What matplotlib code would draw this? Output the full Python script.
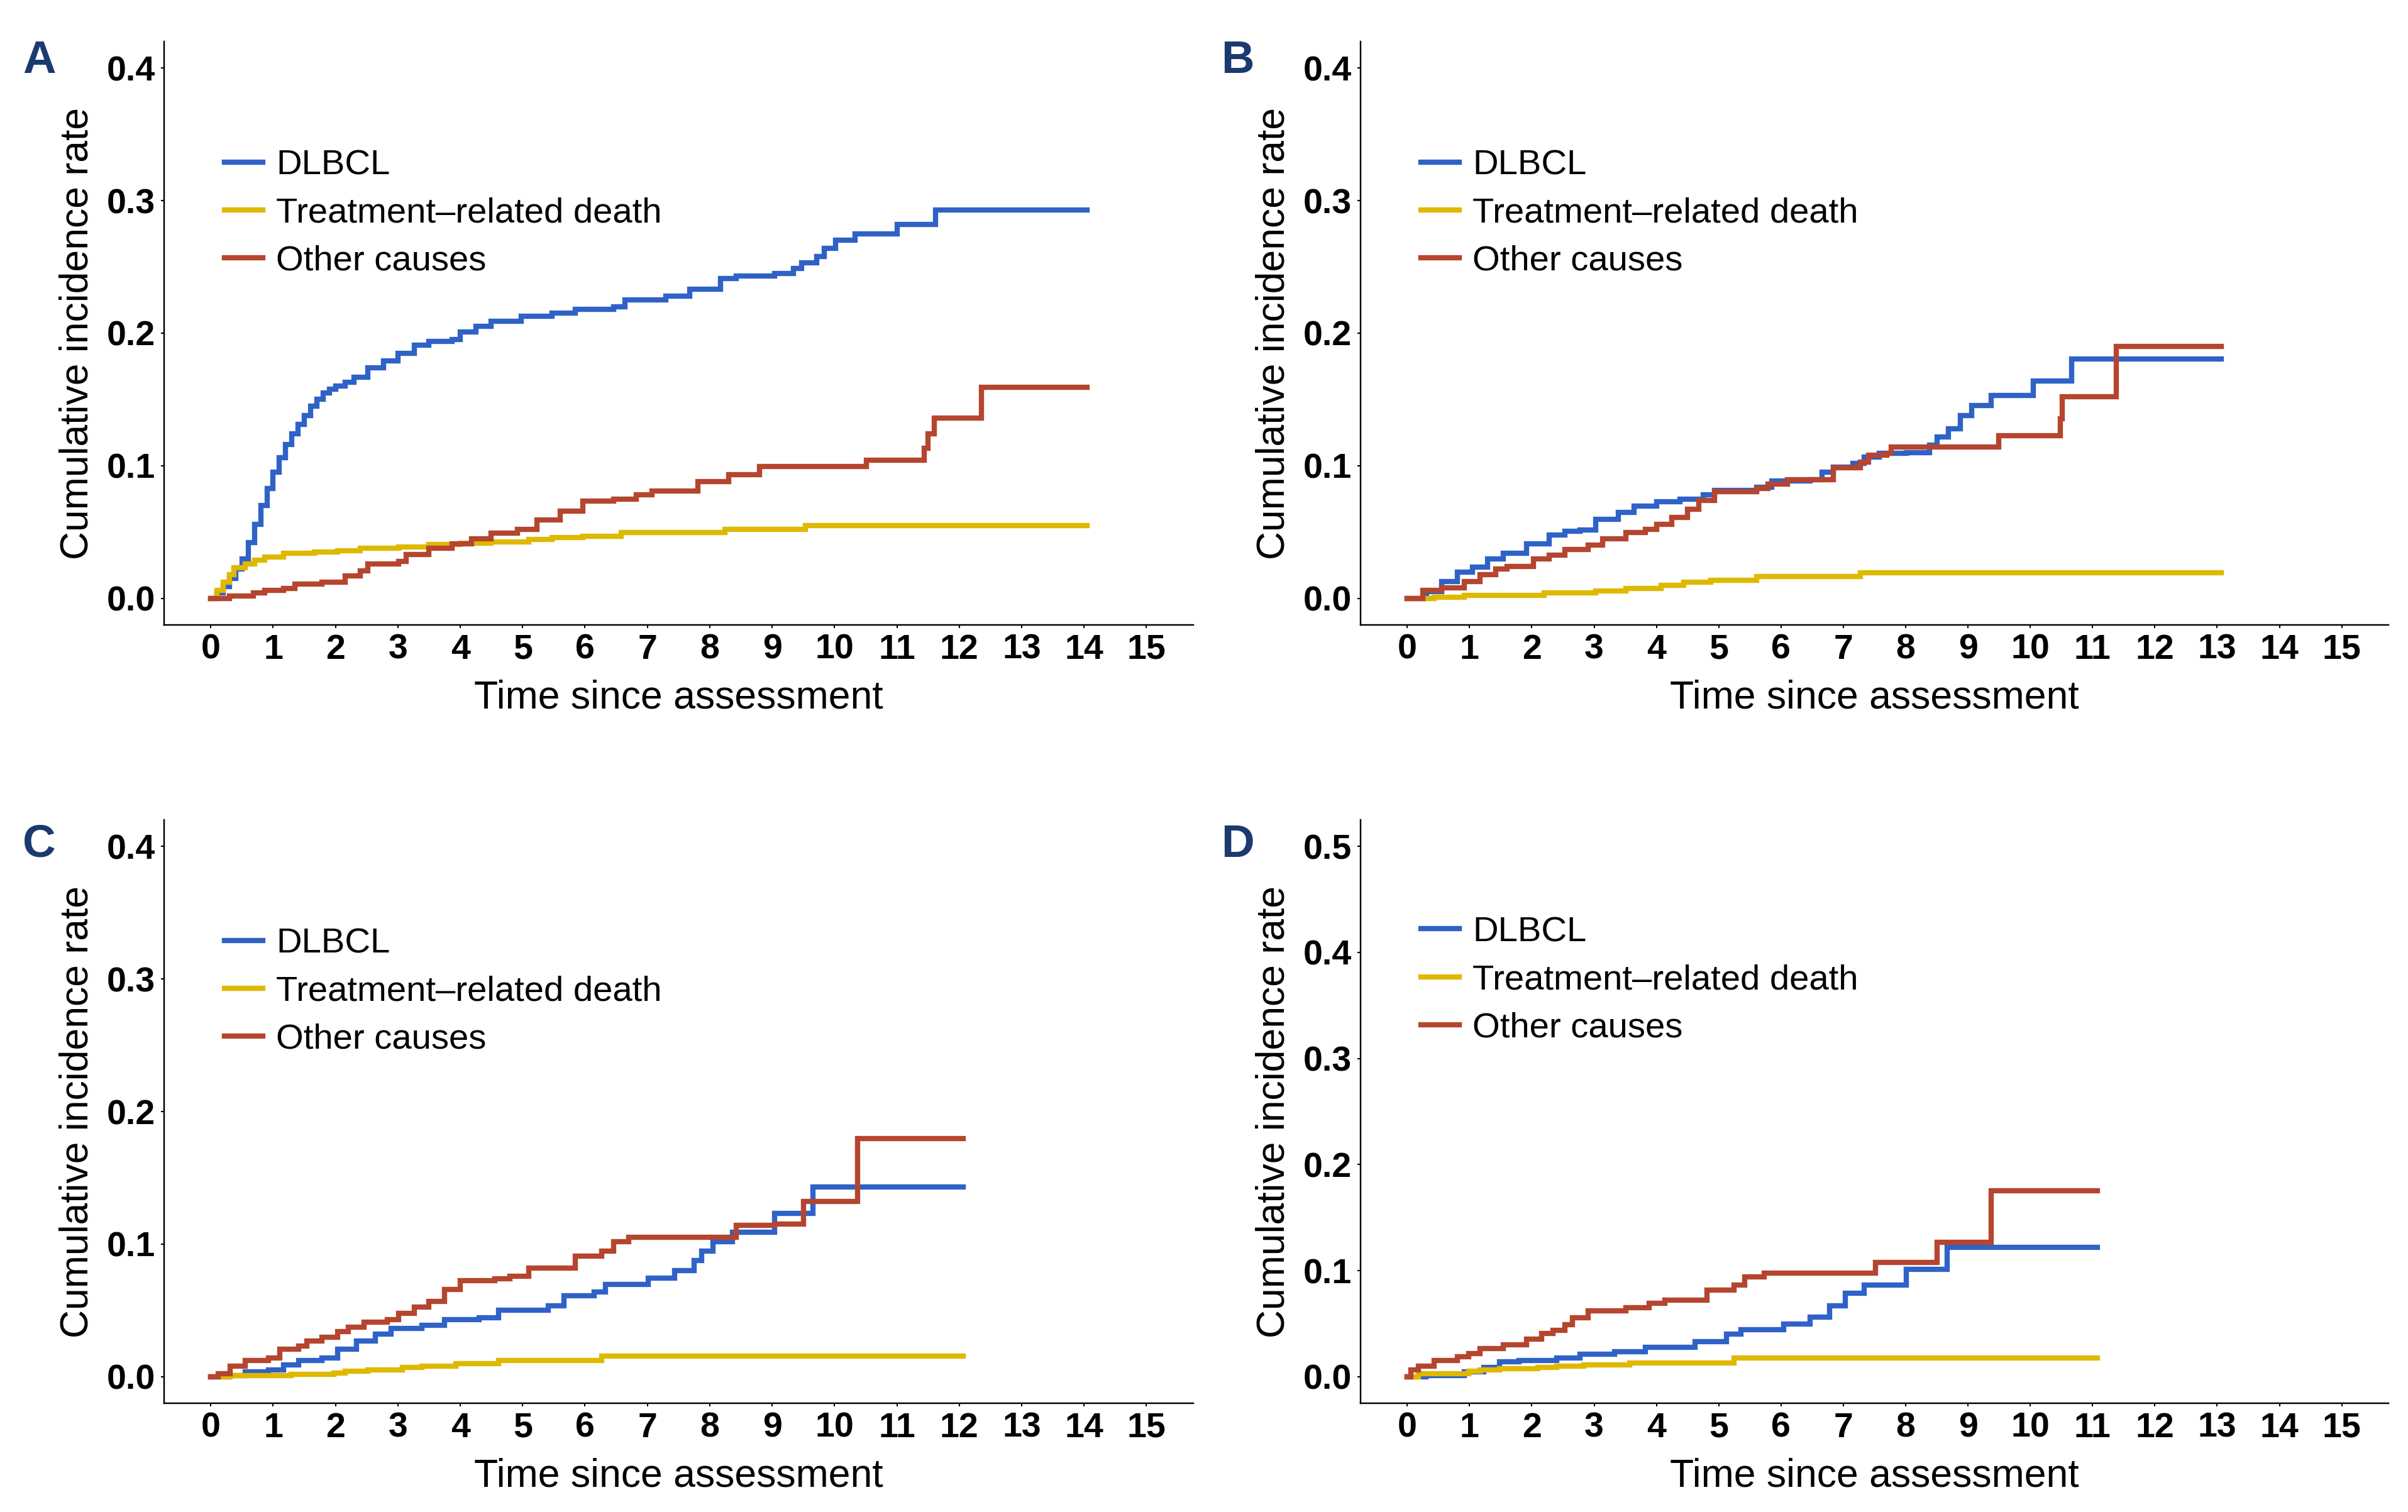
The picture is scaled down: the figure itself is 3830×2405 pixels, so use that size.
import matplotlib
matplotlib.use("Agg")
import matplotlib.pyplot as plt
from matplotlib.ticker import FormatStrFormatter

plt.rcParams["font.family"] = ["Liberation Sans", "DejaVu Sans"]

SERIES = ["DLBCL", "Treatment\u2013related death", "Other causes"]
COLORS = ["#2f62c6", "#dfb800", "#b5452f"]
X_TICKS = list(range(16))

# Panel A (time in years, cumulative incidence)
a_dlbcl_t = [0, 0.1, 0.2, 0.3, 0.4, 0.5, 0.6, 0.7, 0.8, 0.9, 1.0, 1.1, 1.2, 1.3, 1.4, 1.5,
             1.6, 1.7, 1.8, 1.9, 2.0, 2.15, 2.3, 2.52, 2.77, 3.0, 3.26, 3.5, 3.87, 4.0,
             4.25, 4.49, 4.98, 5.47, 5.84, 6.46, 6.64, 7.3, 7.68, 8.17, 8.42, 9.04, 9.34,
             9.47, 9.71, 9.84, 10.02, 10.33, 11.0, 11.62, 14.05]
a_dlbcl_y = [0, 0.004, 0.009, 0.015, 0.022, 0.030, 0.042, 0.056, 0.070, 0.083, 0.095,
             0.106, 0.116, 0.124, 0.131, 0.138, 0.145, 0.150, 0.155, 0.158, 0.160, 0.163,
             0.167, 0.174, 0.179, 0.185, 0.191, 0.194, 0.195, 0.201, 0.205, 0.209, 0.213,
             0.215, 0.218, 0.220, 0.225, 0.228, 0.233, 0.241, 0.243, 0.245, 0.249, 0.253,
             0.258, 0.264, 0.270, 0.275, 0.282, 0.293, 0.293]
a_trd_t = [0, 0.1, 0.2, 0.3, 0.37, 0.55, 0.7, 0.86, 1.17, 1.66, 2.03, 2.4, 3.01, 3.5, 4.0,
           4.49, 5.1, 5.47, 5.96, 6.58, 8.24, 9.53, 14.05]
a_trd_y = [0, 0.006, 0.012, 0.018, 0.023, 0.026, 0.029, 0.031, 0.034, 0.035, 0.036, 0.038,
           0.039, 0.0406, 0.0417, 0.0424, 0.0446, 0.046, 0.047, 0.0496, 0.052, 0.055, 0.055]
a_oth_t = [0, 0.3, 0.68, 0.86, 1.17, 1.35, 1.78, 2.15, 2.4, 2.52, 3.01, 3.13, 3.5, 3.87,
           4.18, 4.49, 4.92, 5.23, 5.6, 5.96, 6.46, 6.82, 7.07, 7.81, 8.3, 8.8, 10.51,
           11.44, 11.5, 11.6, 12.36, 14.05]
a_oth_y = [0, 0.002, 0.004, 0.006, 0.0076, 0.011, 0.012, 0.017, 0.021, 0.026, 0.028, 0.033,
           0.038, 0.041, 0.045, 0.049, 0.052, 0.059, 0.066, 0.0736, 0.0746, 0.078, 0.081,
           0.088, 0.0935, 0.0996, 0.104, 0.1134, 0.124, 0.136, 0.159, 0.159]

# Panel B
b_dlbcl_t = [0, 0.31, 0.55, 0.8, 1.05, 1.29, 1.54, 1.91, 2.28, 2.53, 2.77, 3.02, 3.39, 3.64,
             4.0, 4.38, 4.75, 4.93, 5.61, 5.85, 6.47, 6.66, 6.84, 7.15, 7.33, 7.58, 8.01,
             8.38, 8.5, 8.69, 8.88, 9.06, 9.37, 10.05, 10.66, 13.07]
b_dlbcl_y = [0, 0.005, 0.0126, 0.020, 0.0235, 0.0296, 0.034, 0.041, 0.048, 0.0506, 0.0517,
             0.0596, 0.065, 0.0697, 0.073, 0.075, 0.078, 0.0813, 0.084, 0.0885, 0.0896,
             0.095, 0.099, 0.102, 0.1066, 0.1095, 0.110, 0.1156, 0.1218, 0.128, 0.138,
             0.1456, 0.153, 0.164, 0.1807, 0.1807]
b_trd_t = [0, 0.43, 0.92, 2.2, 3.02, 3.51, 4.07, 4.44, 4.87, 5.61, 7.27, 13.07]
b_trd_y = [0, 0.001, 0.0025, 0.004, 0.0054, 0.0076, 0.0098, 0.012, 0.0137, 0.0163, 0.0192,
           0.0192]
b_oth_t = [0, 0.25, 0.55, 0.92, 1.17, 1.42, 1.6, 2.03, 2.28, 2.53, 2.9, 3.14, 3.51, 3.82,
           4.0, 4.25, 4.5, 4.68, 4.93, 5.61, 5.79, 6.1, 6.84, 7.27, 7.4, 7.7, 7.77, 9.49,
           10.48, 10.51, 11.38, 13.07]
b_oth_y = [0, 0.006, 0.008, 0.0126, 0.018, 0.022, 0.024, 0.0296, 0.0325, 0.0369, 0.040,
           0.045, 0.0495, 0.052, 0.056, 0.061, 0.067, 0.074, 0.0806, 0.083, 0.086, 0.0896,
           0.0986, 0.103, 0.108, 0.1095, 0.114, 0.1229, 0.1355, 0.152, 0.190, 0.190]

# Panel C
c_dlbcl_t = [0, 0.3, 0.55, 0.92, 1.17, 1.41, 1.78, 2.03, 2.34, 2.64, 2.89, 3.38, 3.75, 4.3,
             4.61, 5.41, 5.66, 6.15, 6.33, 7.01, 7.44, 7.75, 7.87, 8.05, 8.36, 9.04, 9.65,
             12.06]
c_dlbcl_y = [0, 0.001, 0.0036, 0.005, 0.009, 0.0125, 0.0143, 0.021, 0.027, 0.032, 0.0364,
             0.039, 0.043, 0.0446, 0.050, 0.0536, 0.061, 0.064, 0.0696, 0.0743, 0.080,
             0.0875, 0.095, 0.102, 0.109, 0.123, 0.143, 0.143]
c_trd_t = [0, 0.31, 1.29, 1.97, 2.15, 2.52, 3.07, 3.38, 3.93, 4.61, 6.27, 12.06]
c_trd_y = [0, 0.001, 0.0018, 0.003, 0.004, 0.0054, 0.007, 0.008, 0.010, 0.0125, 0.0154,
           0.0154]
c_oth_t = [0, 0.12, 0.31, 0.55, 0.92, 1.11, 1.41, 1.54, 1.78, 2.03, 2.21, 2.46, 2.83, 3.01,
           3.26, 3.5, 3.75, 4.0, 4.55, 4.8, 5.1, 5.84, 6.27, 6.46, 6.7, 8.42, 9.04, 9.5,
           10.37, 12.06]
c_oth_y = [0, 0.0025, 0.008, 0.0125, 0.0143, 0.021, 0.023, 0.027, 0.030, 0.034, 0.0375,
           0.041, 0.043, 0.048, 0.0525, 0.057, 0.066, 0.0725, 0.074, 0.076, 0.082, 0.091,
           0.095, 0.102, 0.1054, 0.114, 0.115, 0.132, 0.1796, 0.1796]

# Panel D
d_dlbcl_t = [0, 0.3, 0.92, 1.23, 1.48, 1.79, 2.4, 2.77, 3.33, 3.82, 4.62, 5.12, 5.36, 6.04,
             6.47, 6.78, 7.03, 7.33, 8.01, 8.67, 11.08]
d_dlbcl_y = [0, 0.001, 0.0044, 0.009, 0.014, 0.0156, 0.018, 0.021, 0.0236, 0.0276, 0.033,
             0.040, 0.0444, 0.050, 0.0564, 0.0667, 0.079, 0.0867, 0.101, 0.122, 0.122]
d_trd_t = [0, 0.18, 0.99, 1.17, 1.48, 2.1, 2.4, 2.83, 3.57, 5.24, 11.08]
d_trd_y = [0, 0.003, 0.0053, 0.0067, 0.0076, 0.009, 0.0098, 0.011, 0.013, 0.0178, 0.0178]
d_oth_t = [0, 0.06, 0.18, 0.43, 0.8, 0.99, 1.17, 1.54, 1.91, 2.16, 2.34, 2.53, 2.65, 2.9,
           3.51, 3.88, 4.13, 4.81, 5.24, 5.42, 5.73, 7.52, 8.5, 9.37, 11.08]
d_oth_y = [0, 0.0067, 0.0098, 0.0155, 0.0187, 0.022, 0.0267, 0.030, 0.0356, 0.041, 0.044,
           0.049, 0.0556, 0.062, 0.0653, 0.069, 0.0724, 0.082, 0.0867, 0.094, 0.0978,
           0.1076, 0.1267, 0.1756, 0.1756]

PANELS = [
    ("A", [(a_dlbcl_t, a_dlbcl_y), (a_trd_t, a_trd_y), (a_oth_t, a_oth_y)], 0.4),
    ("B", [(b_dlbcl_t, b_dlbcl_y), (b_trd_t, b_trd_y), (b_oth_t, b_oth_y)], 0.4),
    ("C", [(c_dlbcl_t, c_dlbcl_y), (c_trd_t, c_trd_y), (c_oth_t, c_oth_y)], 0.4),
    ("D", [(d_dlbcl_t, d_dlbcl_y), (d_trd_t, d_trd_y), (d_oth_t, d_oth_y)], 0.5),
]

# axes boxes in figure fraction: left, bottom, width, height
BOXES = [
    (0.0681, 0.5867, 0.4274, 0.3859),
    (0.5650, 0.5867, 0.4269, 0.3859),
    (0.0681, 0.0719, 0.4274, 0.3859),
    (0.5650, 0.0719, 0.4269, 0.3859),
]
LETTER_POS = [(0.0094, 0.974), (0.5070, 0.974), (0.0094, 0.4555), (0.5070, 0.4555)]
LEGEND_Y = [0.705, 0.705, 0.705, 0.725]


def draw_panel(ax, series, ymax, leg_y):
    for (t, y), color, label in zip(series, COLORS, SERIES):
        ax.step(t, y, where="post", color=color, lw=2.4, label=label,
                solid_joinstyle="miter")

    ax.set_xlim(-0.75, 15.75)
    ax.set_ylim(-0.05 * ymax, 1.05 * ymax)
    ax.set_xticks(X_TICKS)
    n_y = int(round(ymax / 0.1)) + 1
    ax.set_yticks([i * 0.1 for i in range(n_y)])
    ax.yaxis.set_major_formatter(FormatStrFormatter("%.1f"))

    for side in ("top", "right"):
        ax.spines[side].set_visible(False)
    for side in ("left", "bottom"):
        ax.spines[side].set_linewidth(0.7)
        ax.spines[side].set_color("black")

    ax.tick_params(axis="both", length=1.5, width=0.6, pad=2.5, labelsize=16,
                   colors="black")
    for lbl in ax.get_xticklabels() + ax.get_yticklabels():
        lbl.set_fontweight("bold")

    ax.set_xlabel("Time since assessment", fontsize=18, labelpad=6)
    ax.set_ylabel("Cumulative incidence rate", fontsize=18, labelpad=5)

    ax.legend(loc="center left", bbox_to_anchor=(0.059, leg_y), frameon=False,
              fontsize=16.2, handlelength=1.07, handletextpad=0.38, borderpad=0,
              borderaxespad=0, labelspacing=0.43)


fig = plt.figure(figsize=(15.32, 9.62), dpi=250)
for (letter, series, ymax), box, pos, leg_y in zip(PANELS, BOXES, LETTER_POS, LEGEND_Y):
    ax = fig.add_axes(box)
    draw_panel(ax, series, ymax, leg_y)
    fig.text(pos[0], pos[1], letter, fontsize=21, fontweight="bold", color="#1b3a6e",
             ha="left", va="top")

fig.savefig("out.png", dpi=250, facecolor="white")
